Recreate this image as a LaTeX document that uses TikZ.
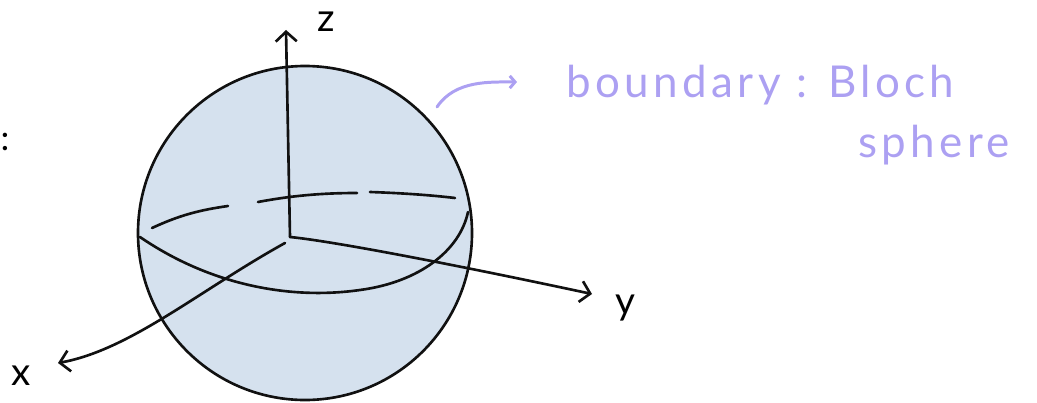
\documentclass[tikz,border=0pt]{standalone}
\usepackage{fontspec}
\setmainfont{Lato}
\usetikzlibrary{arrows.meta}
\definecolor{SphereBlue}{HTML}{D5E1EE}
\definecolor{InkBlack}{HTML}{111111}
\definecolor{NoteLilac}{RGB}{172, 160, 242}

\begin{document}
\begin{tikzpicture}[x=0.02cm, y=-0.02cm, line cap=round, line join=round]
    \useasboundingbox (0,0) rectangle (1037,402);
    \tikzset{
        pen/.style={color=InkBlack, line width=1.5pt},
        axis/.style={pen, -{Straight Barb[length=5.5pt, width=12pt, line width=1.5pt]}},
        note/.style={color=NoteLilac, font=\fontsize{25}{28}\selectfont\addfontfeature{LetterSpace=10}, inner sep=0pt, anchor=base west}
    }

    % sphere
    \filldraw[pen, fill=SphereBlue] (305,233) circle (167);

    % equator, back half dashed by hand
    \draw[pen] (152,228) .. controls (180,215) and (200,210) .. (228,206);
    \draw[pen] (258,202) .. controls (290,196) and (320,193) .. (357,193);
    \draw[pen] (370,192) .. controls (400,193) and (430,195) .. (455,198);
    \draw[pen] (140,237) .. controls (210,285) and (290,300) .. (360,290) .. controls (420,282) and (460,250) .. (468,212);

    % axes
    \coordinate (O) at (290,237);
    \coordinate (zTip) at (286,30);
    \coordinate (yTip) at (592,294);
    \coordinate (xTip) at (58,363);
    \draw[axis] (O) -- (zTip);
    \draw[axis] (O) .. controls (340,242) and (480,270) .. (yTip);
    \draw[axis] (285,243) .. controls (200,290) and (130,350) .. (xTip);
    \node[font=\fontsize{22}{24}\selectfont, inner sep=0pt] (zLbl) at (326,22) {z};
    \node[font=\fontsize{22}{24}\selectfont, inner sep=0pt] (yLbl) at (625,308) {y};
    \node[font=\fontsize{22}{24}\selectfont, inner sep=0pt] (xLbl) at (21,376) {x};
    \node[font=\fontsize{20}{22}\selectfont, inner sep=0pt] (colon) at (5,142) {:};

    % note on the boundary
    \coordinate (noteFrom) at (437,107);
    \coordinate (noteTo) at (517,82);
    \draw[color=NoteLilac, line width=1.7pt, -{Straight Barb[length=3pt, width=7pt, line width=1.7pt]}] (noteFrom) .. controls (455,80) and (490,82) .. (noteTo);
    \node[note] (noteA) at (566,97) {boundary : Bloch};
    \node[note] (noteB) at (858,157) {sphere};
\end{tikzpicture}
\end{document}
